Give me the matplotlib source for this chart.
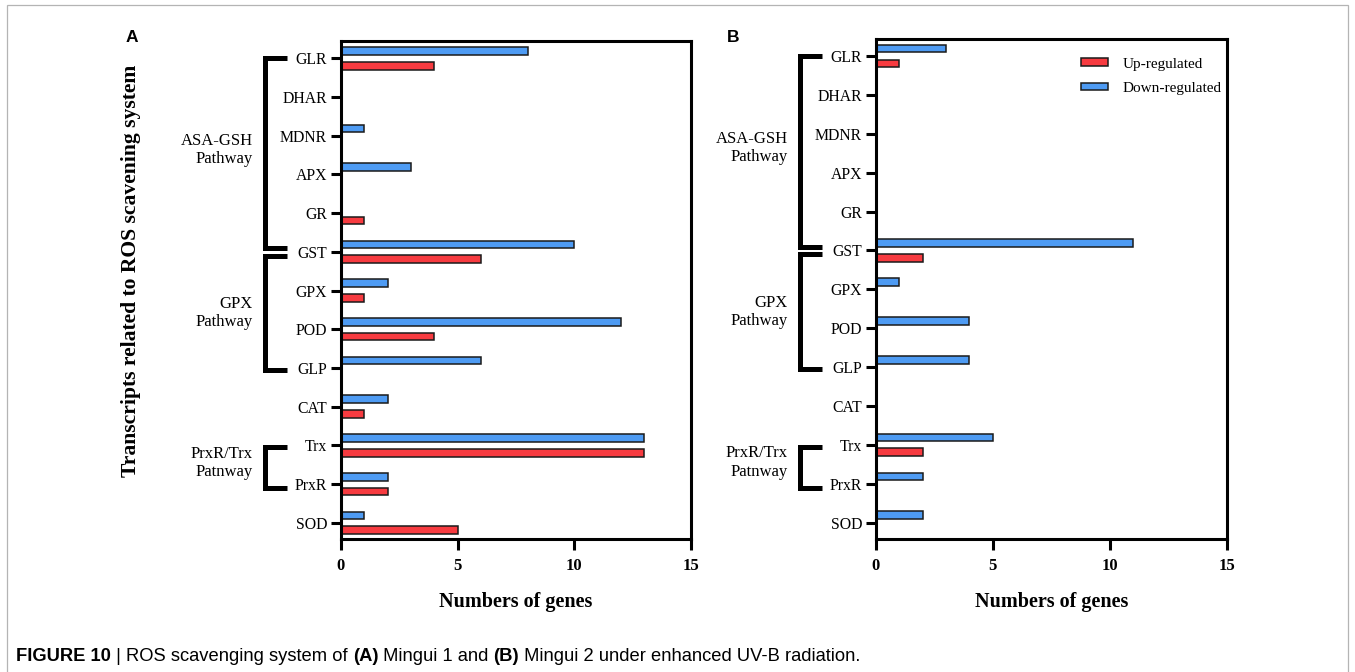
import matplotlib
matplotlib.use('Agg')
import matplotlib.pyplot as plt
import matplotlib.transforms as mtransforms
from matplotlib.patches import Patch, Rectangle

plt.rcParams['font.family'] = ['Liberation Serif', 'DejaVu Serif']

# gene families, top to bottom
genes = ['GLR', 'DHAR', 'MDNR', 'APX', 'GR', 'GST', 'GPX', 'POD', 'GLP',
         'CAT', 'Trx', 'PrxR', 'SOD']

# Mingui 1
a_up = [4, 0, 0, 0, 1, 6, 1, 4, 0, 1, 13, 2, 5]
a_down = [8, 0, 1, 3, 0, 10, 2, 12, 6, 2, 13, 2, 1]

# Mingui 2
b_up = [1, 0, 0, 0, 0, 2, 0, 0, 0, 0, 2, 0, 0]
b_down = [3, 0, 0, 0, 0, 11, 1, 4, 4, 0, 5, 2, 2]

# pathway brackets: label, first row, last row
pathways = [('ASA-GSH\nPathway', 0, 4.9),
            ('GPX\nPathway', 5.1, 8.05),
            ('PrxR/Trx\nPatnway', 10.05, 11.1)]
pathway_label_y = [2.36, 6.58, 10.45]

x_ticks = [0, 5, 10, 15]
up_color = '#F73B40'
down_color = '#4E9BF3'

W, H = 1355, 672
fig = plt.figure(figsize=(W / 100, H / 100), dpi=100)


def axes_box(left, top, right, bottom):
    return [left / W, 1 - bottom / H, (right - left) / W, (bottom - top) / H]


def draw_panel(ax, up, down, letter, letter_x):
    y = list(range(len(genes)))
    bh = 0.2
    ax.barh([v - 0.19 for v in y], down, height=bh, color=down_color,
            edgecolor='#1a1a1a', linewidth=1.1, label='Down-regulated')
    ax.barh([v + 0.19 for v in y], up, height=bh, color=up_color,
            edgecolor='#1a1a1a', linewidth=1.1, label='Up-regulated')
    ax.set_ylim(12.42, -0.45)
    ax.set_xlim(0, 15)
    ax.set_yticks(y)
    ax.set_yticklabels(genes, fontsize=11.3)
    ax.set_xticks(x_ticks)
    ax.set_xticklabels([str(t) for t in x_ticks], fontsize=12, fontweight='bold')
    for s in ax.spines.values():
        s.set_linewidth(2.2)
    ax.tick_params(axis='y', length=7, width=2.2, pad=3)
    ax.tick_params(axis='x', length=8, width=2.2, pad=6)
    ax.set_xlabel('Numbers of genes', fontsize=14.5, fontweight='bold', labelpad=13)

    # pathway brackets left of the tick labels
    tr = mtransforms.blended_transform_factory(ax.transAxes, ax.transData)
    xv, xa, xt = -76 / 350, -54 / 350, -88 / 350
    for (name, y0, y1), ly in zip(pathways, pathway_label_y):
        ax.plot([xa, xv, xv, xa], [y0, y0, y1, y1], color='black', lw=3.6,
                transform=tr, clip_on=False, solid_joinstyle='miter',
                solid_capstyle='butt')
        ax.text(xt, ly, name, transform=tr, ha='right', va='center',
                multialignment='right', fontsize=12, linespacing=1.2)

    fig.text(letter_x / W, 1 - 38 / H, letter, fontsize=12.5, fontweight='bold',
             family=['Liberation Sans', 'DejaVu Sans'], ha='center', va='center')


ax_a = fig.add_axes(axes_box(341, 41, 691, 539))
ax_b = fig.add_axes(axes_box(876, 38.5, 1226.5, 539))
draw_panel(ax_a, a_up, a_down, 'A', 132)
draw_panel(ax_b, b_up, b_down, 'B', 733)

fig.text(131 / W, 1 - 271 / H, 'Transcripts related to ROS scavening system',
         rotation=90, fontsize=15.6, fontweight='bold', ha='center', va='center')

handles = [Patch(facecolor=up_color, edgecolor='#1a1a1a', lw=1.1, label='Up-regulated'),
           Patch(facecolor=down_color, edgecolor='#1a1a1a', lw=1.1, label='Down-regulated')]
ax_b.legend(handles=handles, loc='upper left', bbox_to_anchor=(0.585, 0.962),
            frameon=False, fontsize=11, handlelength=1.75, handleheight=0.4,
            handletextpad=0.95, labelspacing=0.75, borderpad=0, borderaxespad=0)

# thin frame around the figure
fig.patches.append(Rectangle((7 / W, -0.02), 1341 / W, 1.02 - 5 / H,
                             transform=fig.transFigure, fill=False,
                             edgecolor='#b4b4b4', lw=0.9))

# caption, bold parts set separately and chained left to right
cap_parts = [('FIGURE 10', 'bold'), (' | ROS scavenging system of ', 'normal'),
             ('(A)', 'bold'), (' Mingui 1 and ', 'normal'), ('(B)', 'bold'),
             (' Mingui 2 under enhanced UV-B radiation.', 'normal')]
cap_font = ['Liberation Sans Narrow', 'Liberation Sans', 'DejaVu Sans']
anchor = fig.text(16 / W, 1 - 665 / H, cap_parts[0][0], fontsize=13.2,
                  fontweight=cap_parts[0][1], family=cap_font, va='bottom')
for txt, wt in cap_parts[1:]:
    anchor = ax_a.annotate(txt, xy=(1, 0), xycoords=anchor, fontsize=13.2,
                           fontweight=wt, family=cap_font, va='bottom', ha='left',
                           annotation_clip=False)

fig.savefig('out.png', dpi=100)
